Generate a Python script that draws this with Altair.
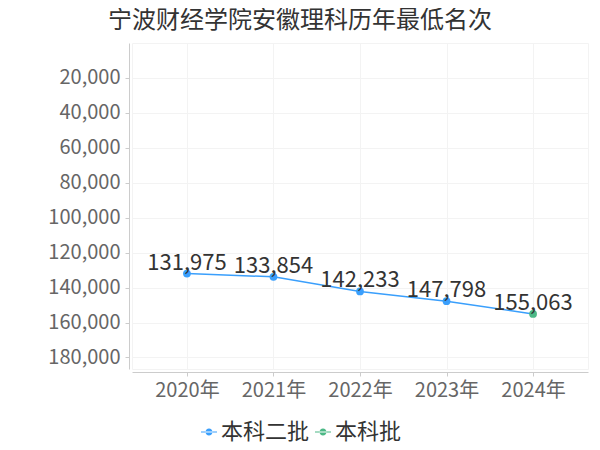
import altair as alt
import pandas as pd

years = ["2020年", "2021年", "2022年", "2023年", "2024年"]
ranks = [131975, 133854, 142233, 147798, 155063]
batches = ["本科二批", "本科二批", "本科二批", "本科二批", "本科批"]
y_ticks = [20000, 40000, 60000, 80000, 100000, 120000, 140000, 160000, 180000]

df = pd.DataFrame({"year": years, "rank": ranks, "batch": batches})

FONT = "Noto Sans CJK SC"
BLUE = "#3a9ffc"
GREEN = "#4cb886"

x = alt.X("year:N", sort=years, title=None,
          scale=alt.Scale(type="point", padding=0.635),
          axis=alt.Axis(labelAngle=0, labelFontSize=20, labelColor="#666666",
                        labelFont=FONT, tickSize=4, tickColor="#cccccc",
                        domainColor="#cccccc", offset=3, labelPadding=4,
                        grid=True, gridColor="#f3f3f3"))
y = alt.Y("rank:Q", title=None,
          scale=alt.Scale(domain=[0, 186600], reverse=True, nice=False, zero=False),
          axis=alt.Axis(values=y_ticks, labelExpr="format(datum.value, ',d')",
                        labelFontSize=20,
                        labelColor="#666666", labelFont=FONT, tickSize=4,
                        tickColor="#cccccc", domainColor="#cccccc", offset=3,
                        labelPadding=5, grid=True, gridColor="#f3f3f3"))

base = alt.Chart(df)

line = base.mark_line(color=BLUE, strokeWidth=1.5).encode(x=x, y=y)

legend_path = ("M-1,-0.07L1,-0.07L1,0.07L-1,0.07Z "
               "M-0.44,0A0.44,0.44,0,1,0,0.44,0A0.44,0.44,0,1,0,-0.44,0Z")

points = base.mark_circle(size=60, opacity=1).encode(
    x=x, y=y,
    color=alt.Color("batch:N",
                    scale=alt.Scale(domain=["本科二批", "本科批"], range=[BLUE, GREEN]),
                    legend=alt.Legend(title=None, orient="none", direction="horizontal",
                                      legendX=66, legendY=378,
                                      symbolType=legend_path, symbolSize=256,
                                      symbolStrokeWidth=0, labelFontSize=22,
                                      labelColor="#333333", labelFont=FONT,
                                      labelOffset=1, columnPadding=2,
                                      symbolOpacity=1)),
)

labels = base.mark_text(fontSize=22, color="#333333", font=FONT,
                        baseline="alphabetic", dy=-4).encode(
    x=x, y=y, text=alt.Text("rank:Q", format=",d")
)

chart = (line + points + labels).properties(
    width=456, height=326,
    autosize=alt.AutoSizeParams(type="none"),
    padding={"left": 124, "top": 35, "right": 4, "bottom": 81},
    title=alt.TitleParams("宁波财经学院安徽理科历年最低名次", anchor="start",
                          frame="group", dx=-24, fontSize=24, font=FONT,
                          color="#333333", fontWeight="normal", offset=10),
).configure_view(stroke="#f3f3f3")

chart.save("out.html", embed_options={"renderer": "svg", "actions": False})
